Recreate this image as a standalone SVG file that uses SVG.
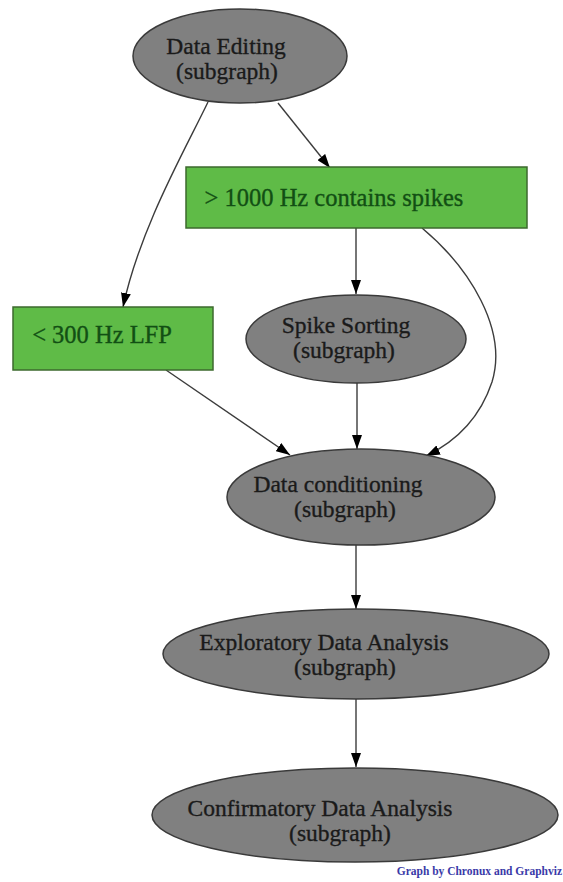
<svg xmlns="http://www.w3.org/2000/svg" width="563" height="882" viewBox="0 0 563 882">
<style>
.ell{fill:#808080;stroke:#3a3a3a;stroke-width:1.5}
.box{fill:#5fbb47;stroke:#3d6a2e;stroke-width:1.5}
.t{font-family:"Liberation Serif","Times New Roman",serif;font-size:23.5px;fill:#1a1a1a;stroke:#1a1a1a;stroke-width:0.35;text-anchor:middle}
.g{font-family:"Liberation Serif","Times New Roman",serif;font-size:24.5px;fill:#124f14;stroke:#124f14;stroke-width:0.35;text-anchor:middle}
.e{fill:none;stroke:#3c3c3c;stroke-width:1.4}
.foot{font-family:"Liberation Serif","Times New Roman",serif;font-size:11.5px;font-weight:bold;fill:#3a3aa8;text-anchor:end}
</style>
<defs>
<marker id="ah" viewBox="0 0 14 10" refX="14" refY="5" markerWidth="14" markerHeight="10" markerUnits="userSpaceOnUse" orient="auto">
<path d="M0,0 L14,5 L0,10 Z" fill="#000"/>
</marker>
</defs>
<rect width="563" height="882" fill="#fff"/>
<g id="edges">
<path class="e" marker-end="url(#ah)" d="M208,102 C185,150 140,228 123,307"/>
<path class="e" marker-end="url(#ah)" d="M278,103 L330,168"/>
<path class="e" marker-end="url(#ah)" d="M356,228 L356,294"/>
<path class="e" marker-end="url(#ah)" d="M422,228 C470,268 508,330 492,382 C480,418 455,442 426,456"/>
<path class="e" marker-end="url(#ah)" d="M166,370 L290,455"/>
<path class="e" marker-end="url(#ah)" d="M357,383 L357,449"/>
<path class="e" marker-end="url(#ah)" d="M356,545 L356,609"/>
<path class="e" marker-end="url(#ah)" d="M356,699 L356,767"/>
</g>
<g id="data-editing">
<ellipse class="ell" cx="240" cy="56" rx="107" ry="47"/>
<text class="t" x="226" y="54">Data Editing</text>
<text class="t" x="227" y="79">(subgraph)</text>
</g>
<g id="high-pass">
<rect class="box" x="186" y="167" width="341" height="61"/>
<text class="g" x="334" y="206">&gt; 1000 Hz contains spikes</text>
</g>
<g id="low-pass">
<rect class="box" x="13" y="307" width="200" height="63"/>
<text class="g" x="102" y="343">&lt; 300 Hz LFP</text>
</g>
<g id="spike-sorting">
<ellipse class="ell" cx="356" cy="339" rx="110" ry="44"/>
<text class="t" x="346" y="333">Spike Sorting</text>
<text class="t" x="344" y="358">(subgraph)</text>
</g>
<g id="data-conditioning">
<ellipse class="ell" cx="361" cy="497" rx="134" ry="48"/>
<text class="t" x="338" y="492">Data conditioning</text>
<text class="t" x="345" y="517">(subgraph)</text>
</g>
<g id="exploratory">
<ellipse class="ell" cx="356" cy="654" rx="193" ry="45"/>
<text class="t" x="324" y="650">Exploratory Data Analysis</text>
<text class="t" x="345" y="675">(subgraph)</text>
</g>
<g id="confirmatory">
<ellipse class="ell" cx="355" cy="815" rx="203" ry="47"/>
<text class="t" x="320" y="816">Confirmatory Data Analysis</text>
<text class="t" x="340" y="841">(subgraph)</text>
</g>
<text class="foot" x="562" y="875">Graph by Chronux and Graphviz</text>
</svg>
